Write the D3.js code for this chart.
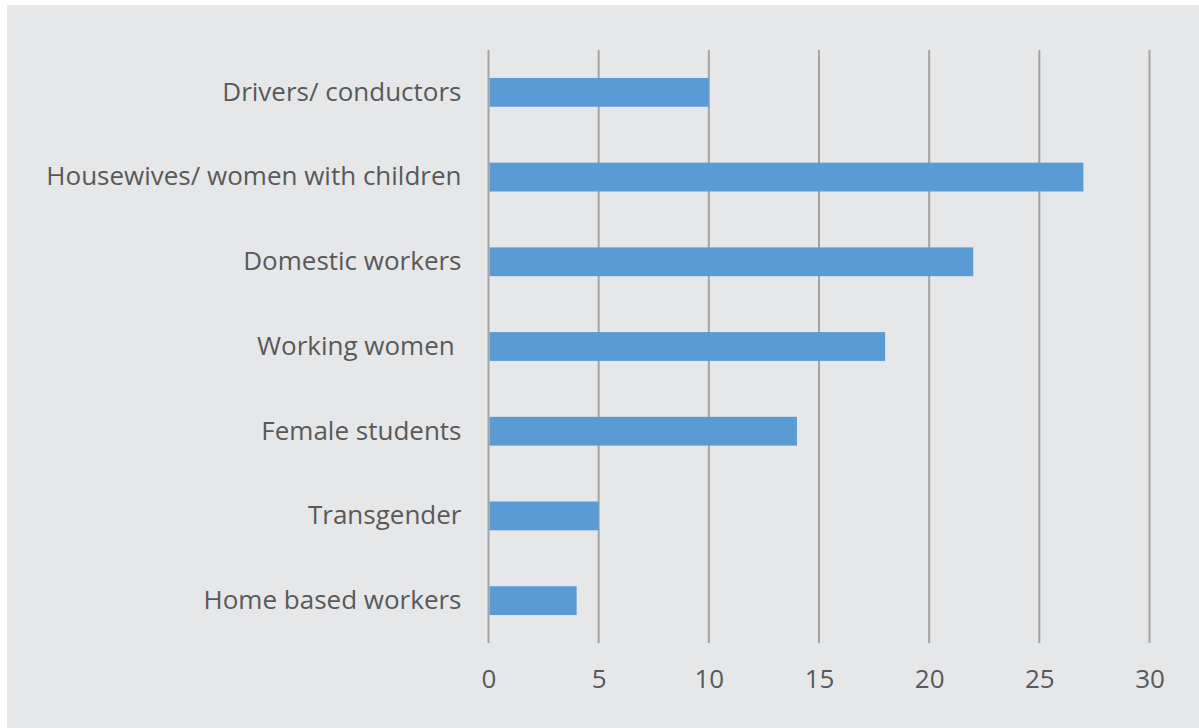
<!DOCTYPE html>
<html>
<head>
<meta charset="utf-8">
<script src="https://cdn.jsdelivr.net/npm/d3@7"></script>
<style>
  html, body { margin: 0; padding: 0; background: #ffffff; }
  svg { display: block; }
  text { font-family: "Open Sans", "Noto Sans", sans-serif; fill: #595959; white-space: pre; }
</style>
</head>
<body>
<svg id="chart" width="1199" height="728"></svg>
<script>
// Survey groups, listed top to bottom
const categories = [
  "Drivers/ conductors",
  "Housewives/ women with children",
  "Domestic workers",
  "Working women ",
  "Female students",
  "Transgender",
  "Home based workers"
];
const values = [10, 27, 22, 18, 14, 5, 4];
const xTicks = [0, 5, 10, 15, 20, 25, 30];

const W = 1199, H = 728;
const margin = { left: 488.5, right: 49.5, top: 50, bottom: 85 };

const svg = d3.select("#chart");

// panel background
svg.append("rect")
  .attr("x", 7).attr("y", 5)
  .attr("width", W - 7).attr("height", H - 5)
  .attr("fill", "#e6e7e9");

const x = d3.scaleLinear()
  .domain([0, 30])
  .range([margin.left, W - margin.right]);

const y = d3.scaleBand()
  .domain(categories)
  .range([margin.top, H - margin.bottom])
  .paddingInner(0.66)
  .paddingOuter(0.33);

// vertical gridlines
svg.append("g")
  .selectAll("line")
  .data(xTicks)
  .join("line")
  .attr("x1", d => x(d)).attr("x2", d => x(d))
  .attr("y1", margin.top).attr("y2", H - margin.bottom)
  .attr("stroke", "#a3a3a3")
  .attr("stroke-width", 2);

// bars
svg.append("g")
  .selectAll("rect")
  .data(values)
  .join("rect")
  .attr("x", x(0) + 1)
  .attr("y", (d, i) => y(categories[i]))
  .attr("width", d => x(d) - x(0) - 1)
  .attr("height", y.bandwidth())
  .attr("fill", "#5b9bd5");

// category labels
const yAxis = d3.axisLeft(y).tickSize(0).tickPadding(27);
const gy = svg.append("g")
  .attr("transform", `translate(${x(0)},0)`)
  .call(yAxis);
gy.select(".domain").remove();
gy.selectAll("text")
  .attr("font-size", 26)
  .attr("fill", "#595959")
  .style("font-family", "'Open Sans', sans-serif");

// value axis labels
const xAxis = d3.axisBottom(x).tickValues(xTicks).tickSize(0).tickPadding(27);
const gx = svg.append("g")
  .attr("transform", `translate(0,${H - margin.bottom})`)
  .call(xAxis);
gx.select(".domain").remove();
gx.selectAll("text")
  .attr("font-size", 26)
  .attr("fill", "#595959")
  .style("font-family", "'Open Sans', sans-serif");
</script>
</body>
</html>
